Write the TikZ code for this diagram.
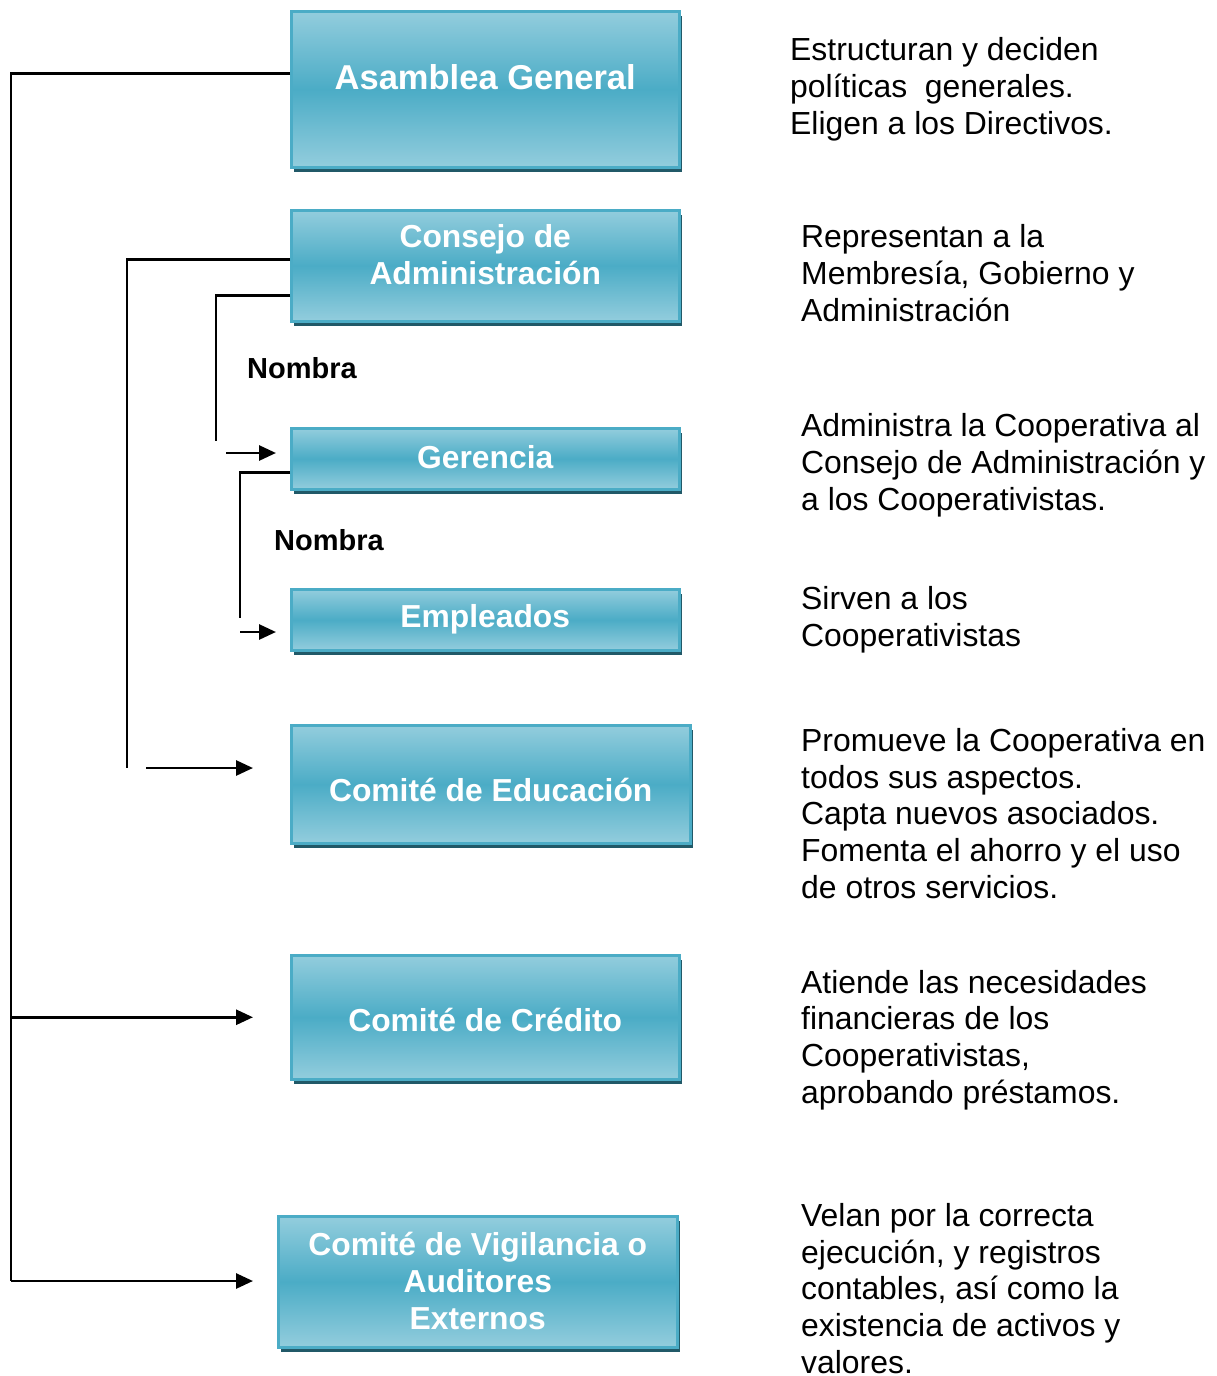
\documentclass[tikz,border=0pt]{standalone}
\usepackage{fontspec}
\setmainfont{Liberation Sans}
\usetikzlibrary{arrows.meta,shadows}
\definecolor{lt}{RGB}{147,205,221}
\definecolor{md}{RGB}{75,172,198}
\definecolor{sh}{RGB}{33,89,104}
\begin{document}
\begin{tikzpicture}[x=1pt,y=-1pt,
  box/.style={draw=md, line width=2.5pt, top color=lt, bottom color=lt, middle color=md,
    inner sep=0pt, anchor=north west,
    drop shadow={shadow xshift=3pt, shadow yshift=-5pt, fill=sh, opacity=1}},
  bt/.style={text=white, font=\fontsize{31.8}{37}\selectfont\bfseries, align=center, inner sep=0pt},
  btbig/.style={bt, font=\fontsize{34.5}{37}\selectfont\bfseries},
  conn/.style={line width=2.8pt},
  arr/.style={line width=2.8pt, -{Triangle[length=17pt,width=15pt]}},
  desc/.style={anchor=base west, align=left, inner sep=0pt, font=\fontsize{31.9}{36.6}\selectfont},
  lab/.style={font=\fontsize{29}{34}\selectfont\bfseries, anchor=base west, inner sep=0pt}]
\useasboundingbox (0,0) rectangle (1217,1376);

% boxes
\node[box, minimum width=388pt, minimum height=156pt,
  label={[btbig, yshift=12pt]center:Asamblea General}] (A) at (290,10) {};
\node[box, minimum width=388pt, minimum height=111pt,
  label={[bt, yshift=11pt]center:Consejo de\\Administración}] (B) at (290,209) {};
\node[box, minimum width=388pt, minimum height=61pt,
  label={[bt, yshift=2pt]center:Gerencia}] (G) at (290,427) {};
\node[box, minimum width=388pt, minimum height=61pt,
  label={[bt]center:Empleados}] (Em) at (290,588) {};
\node[box, minimum width=399pt, minimum height=118pt,
  label={[bt, yshift=-6pt]center:Comité de Educación}] (Ed) at (290,724) {};
\node[box, minimum width=388pt, minimum height=124pt,
  label={[bt, yshift=-3pt]center:Comité de Crédito}] (Cr) at (290,954) {};
\node[box, minimum width=399pt, minimum height=131pt,
  label={[bt, yshift=1pt]center:Comité de Vigilancia o\\Auditores\\Externos}] (V) at (277,1215) {};

% labels
\node[lab] (n1) at (247,378) {Nombra};
\node[lab] (n2) at (274,550) {Nombra};

% descriptions (anchored at the baseline of their last line)
\node[desc] (d1) at (790,134) {Estructuran y deciden\\políticas~~generales.\\Eligen a los Directivos.};
\node[desc] (d2) at (801,321) {Representan a la\\Membresía, Gobierno y\\Administración};
\node[desc] (d3) at (801,510) {Administra la Cooperativa al\\Consejo de Administración y\\a los Cooperativistas.};
\node[desc] (d4) at (801,646) {Sirven a los\\Cooperativistas};
\node[desc] (d5) at (801,898) {Promueve la Cooperativa en\\todos sus aspectos.\\Capta nuevos asociados.\\Fomenta el ahorro y el uso\\de otros servicios.};
\node[desc] (d6) at (801,1103) {Atiende las necesidades\\financieras de los\\Cooperativistas,\\aprobando préstamos.};
\node[desc] (d7) at (801,1373) {Velan por la correcta\\ejecución, y registros\\contables, así como la\\existencia de activos y\\valores.};

% connectors
\coordinate (mb) at (11,1281);
\draw[conn] ([yshift=16pt]A.west) -| (mb);
\draw[arr] (mb) -- ([xshift=-24pt]V.west |- mb);
\draw[arr] (Cr.west -| mb) -- ([xshift=-37pt]Cr.west);

\coordinate (cb) at (127,768);
\coordinate (cs) at (146,768);
\draw[conn] ([yshift=6.5pt]B.west) -| (cb);
\draw[arr] (cs) -- ([xshift=-37pt]Ed.west |- cs);

\coordinate (gb) at (216,441);
\coordinate (gs) at (226,453);
\draw[conn] ([yshift=-29.5pt]B.west) -| (gb);
\draw[arr] (gs) -- ([xshift=-14pt]G.west |- gs);

\coordinate (eb) at (240,618);
\coordinate (es) at (240,632);
\draw[conn] ([yshift=-13.5pt]G.west) -| (eb);
\draw[arr] (es) -- ([xshift=-14pt]Em.west |- es);
\end{tikzpicture}
\end{document}
